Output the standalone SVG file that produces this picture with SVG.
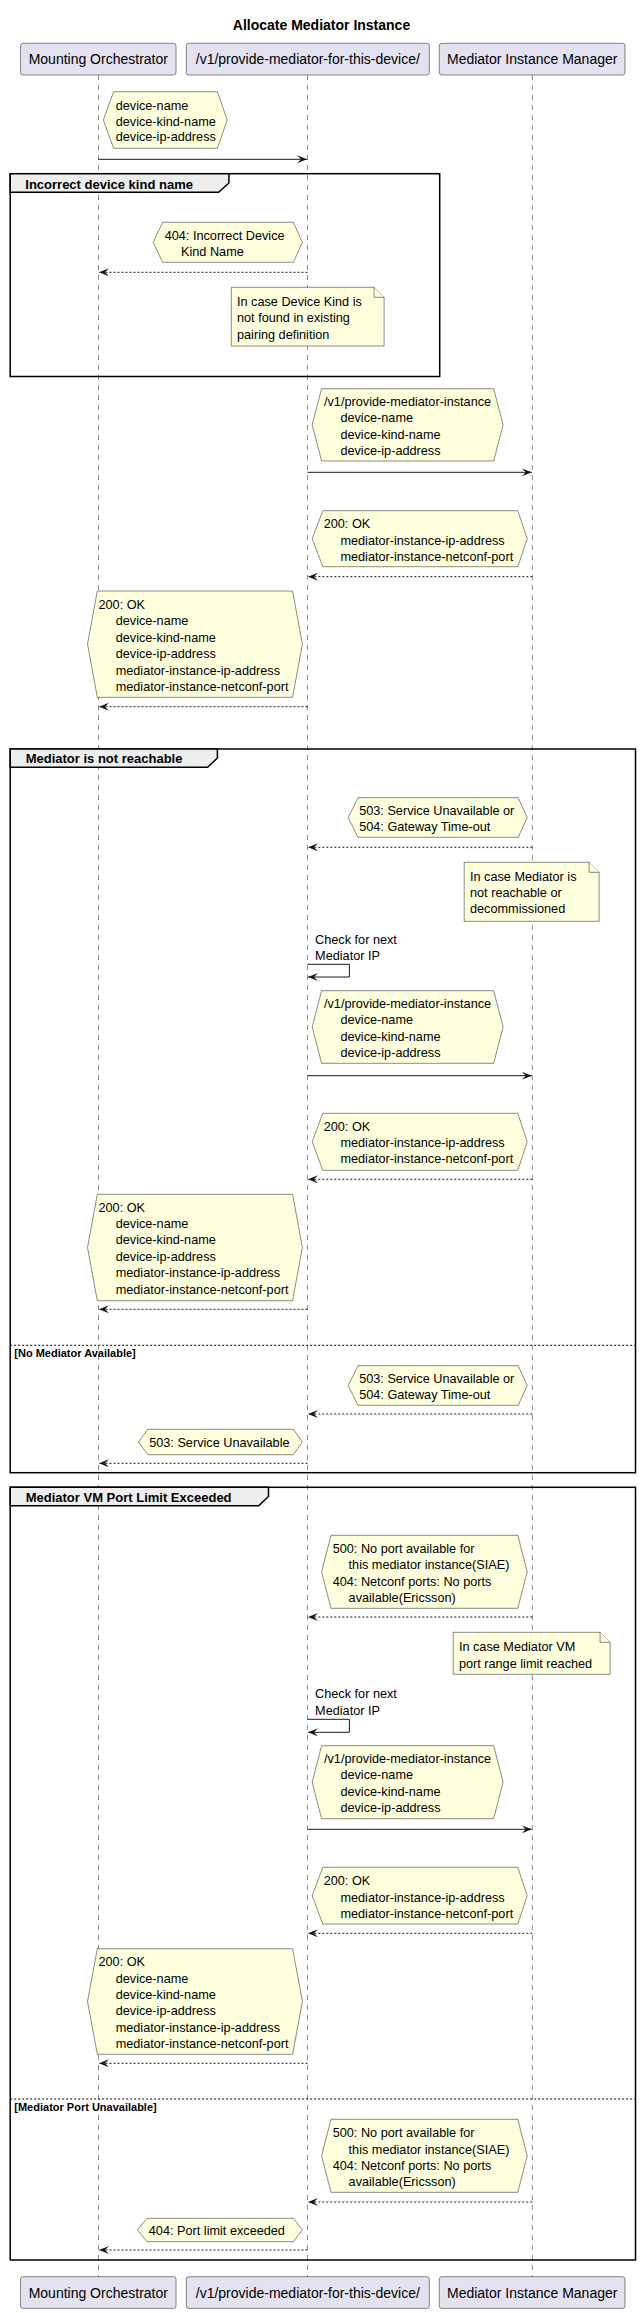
<svg xmlns="http://www.w3.org/2000/svg" width="641" height="2313" viewBox="0 0 641 2313">
<style>
text{font-family:"Liberation Sans",Arial,sans-serif;fill:#000}
.t{font-size:12.7px}
.p{font-size:14px;text-anchor:middle}
.title{font-size:14px;font-weight:bold;text-anchor:middle}
.fl{font-size:13px;font-weight:bold}
.sl{font-size:11px;font-weight:bold}
.part{fill:#E2E2F0;stroke:#181818;stroke-width:0.5}
.life{stroke:#181818;stroke-width:0.5;stroke-dasharray:5,5;fill:none}
.hex,.note{fill:#FEFFDD;stroke:#181818;stroke-width:0.5}
.frame{fill:none;stroke:#000;stroke-width:1.5}
.tab{fill:#EEEEEE;stroke:#000;stroke-width:1.5}
.sep{stroke:#000;stroke-width:1;stroke-dasharray:2,2}
.msg{stroke:#181818;stroke-width:1;fill:none}
.ret{stroke:#181818;stroke-width:1;fill:none;stroke-dasharray:2,2}
</style>
<defs>
<marker id="ah" markerWidth="10" markerHeight="8" refX="10" refY="4" orient="auto" markerUnits="userSpaceOnUse">
<path d="M0,0 L10,4 L0,8 L4,4 Z" fill="#181818"/>
</marker>
</defs>
<rect width="641" height="2313" fill="#fff"/>
<text class="title" x="321.5" y="30">Allocate Mediator Instance</text>

<g id="lifelines">
<line class="life" x1="98.5" y1="75" x2="98.5" y2="2277"/>
<line class="life" x1="307.5" y1="75" x2="307.5" y2="2277"/>
<line class="life" x1="532.3" y1="75" x2="532.3" y2="2277"/>
</g>

<g id="participant-mounting-orchestrator">
<rect class="part" x="20.5" y="43.3" width="155.5" height="31.7" rx="2.5"/>
<text class="p" x="98.3" y="64">Mounting Orchestrator</text>
<rect class="part" x="20.5" y="2276.7" width="155.5" height="31.7" rx="2.5"/>
<text class="p" x="98.3" y="2297.5">Mounting Orchestrator</text>
</g>
<g id="participant-provide-mediator">
<rect class="part" x="186.3" y="43.3" width="243" height="31.7" rx="2.5"/>
<text class="p" x="307.8" y="64">/v1/provide-mediator-for-this-device/</text>
<rect class="part" x="186.3" y="2276.7" width="243" height="31.7" rx="2.5"/>
<text class="p" x="307.8" y="2297.5">/v1/provide-mediator-for-this-device/</text>
</g>
<g id="participant-mediator-instance-manager">
<rect class="part" x="439.3" y="43.3" width="185.7" height="31.7" rx="2.5"/>
<text class="p" x="532.2" y="64">Mediator Instance Manager</text>
<rect class="part" x="439.3" y="2276.7" width="185.7" height="31.7" rx="2.5"/>
<text class="p" x="532.2" y="2297.5">Mediator Instance Manager</text>
</g>

<g id="frame-incorrect-device-kind">
<rect class="frame" x="10.2" y="173.7" width="429.5" height="202.8"/>
<path class="tab" d="M10.2,173.7 L228.9,173.7 L228.9,183 L218.6,192.3 L10.2,192.3 Z"/>
<text class="fl" x="25.3" y="189">Incorrect device kind name</text>
</g>
<g id="frame-mediator-not-reachable">
<rect class="frame" x="10.2" y="749" width="625.3" height="723.7"/>
<path class="tab" d="M10.2,749 L217.4,749 L217.4,758 L207.6,767.3 L10.2,767.3 Z"/>
<text class="fl" x="25.7" y="763">Mediator is not reachable</text>
<line class="sep" x1="10.2" y1="1345.3" x2="635.5" y2="1345.3"/>
<text class="sl" x="14.3" y="1357.3">[No Mediator Available]</text>
</g>
<g id="frame-port-limit">
<rect class="frame" x="10.2" y="1487.3" width="625.3" height="772.7"/>
<path class="tab" d="M10.2,1487.3 L268.5,1487.3 L268.5,1496.5 L258.7,1505.7 L10.2,1505.7 Z"/>
<text class="fl" x="25.7" y="1501.5">Mediator VM Port Limit Exceeded</text>
<line class="sep" x1="10.2" y1="2099" x2="635.5" y2="2099"/>
<text class="sl" x="14.3" y="2111.3">[Mediator Port Unavailable]</text>
</g>

<g id="connectors">
<line class="msg" x1="98.5" y1="159.3" x2="307" y2="159.3" marker-end="url(#ah)"/>
<line class="ret" x1="307.5" y1="272.3" x2="99" y2="272.3" marker-end="url(#ah)"/>
<line class="msg" x1="307.5" y1="472.3" x2="531.8" y2="472.3" marker-end="url(#ah)"/>
<line class="ret" x1="532.3" y1="576.7" x2="308" y2="576.7" marker-end="url(#ah)"/>
<line class="ret" x1="307.5" y1="706.7" x2="99" y2="706.7" marker-end="url(#ah)"/>
<line class="ret" x1="532.3" y1="847.3" x2="308" y2="847.3" marker-end="url(#ah)"/>
<path class="msg" d="M307.5,964.3 L349.4,964.3 L349.4,977 L308,977" marker-end="url(#ah)"/>
<line class="msg" x1="307.5" y1="1075.7" x2="531.8" y2="1075.7" marker-end="url(#ah)"/>
<line class="ret" x1="532.3" y1="1179.3" x2="308" y2="1179.3" marker-end="url(#ah)"/>
<line class="ret" x1="307.5" y1="1309.3" x2="99" y2="1309.3" marker-end="url(#ah)"/>
<line class="ret" x1="532.3" y1="1414" x2="308" y2="1414" marker-end="url(#ah)"/>
<line class="ret" x1="307.5" y1="1463.3" x2="99" y2="1463.3" marker-end="url(#ah)"/>
<line class="ret" x1="532.3" y1="1617" x2="308" y2="1617" marker-end="url(#ah)"/>
<path class="msg" d="M307.5,1719.3 L349.4,1719.3 L349.4,1732.3 L308,1732.3" marker-end="url(#ah)"/>
<line class="msg" x1="307.5" y1="1829.3" x2="531.8" y2="1829.3" marker-end="url(#ah)"/>
<line class="ret" x1="532.3" y1="1933.3" x2="308" y2="1933.3" marker-end="url(#ah)"/>
<line class="ret" x1="307.5" y1="2063.3" x2="99" y2="2063.3" marker-end="url(#ah)"/>
<line class="ret" x1="532.3" y1="2202" x2="308" y2="2202" marker-end="url(#ah)"/>
<line class="ret" x1="307.5" y1="2250" x2="99" y2="2250" marker-end="url(#ah)"/>
</g>

<g id="note-device-request">
<polygon class="hex" points="103.4,120 113.6,91.7 217.4,91.7 227.2,120 217.4,148.3 113.6,148.3"/>
<text class="t" x="115.7"><tspan x="115.7" y="109.5">device-name</tspan><tspan x="115.7" y="125.5">device-kind-name</tspan><tspan x="115.7" y="141.3">device-ip-address</tspan></text>
</g>
<g id="note-404-incorrect">
<polygon class="hex" points="153.2,242.3 162.6,222.3 293.4,222.3 302.4,242.3 293.4,262.3 162.6,262.3"/>
<text class="t"><tspan x="164.7" y="239.8">404: Incorrect Device</tspan><tspan x="181" y="255.6">Kind Name</tspan></text>
</g>
<g id="note-device-kind-not-found">
<path class="note" d="M231.3,287.3 L231.3,346 L384.1,346 L384.1,297.3 L374.1,287.3 Z"/>
<path class="note" d="M374.1,287.3 L374.1,297.3 L384.1,297.3"/>
<text class="t"><tspan x="237" y="306.2">In case Device Kind is</tspan><tspan x="237" y="322.2">not found in existing</tspan><tspan x="237" y="338.5">pairing definition</tspan></text>
</g>
<g id="note-provide-instance-1">
<polygon class="hex" points="312.2,424.8 321.6,388.7 493.7,388.7 503.1,424.8 493.7,461 321.6,461"/>
<text class="t"><tspan x="324" y="406.2">/v1/provide-mediator-instance</tspan><tspan x="340.4" y="422.3">device-name</tspan><tspan x="340.4" y="438.8">device-kind-name</tspan><tspan x="340.4" y="455.2">device-ip-address</tspan></text>
</g>
<g id="note-200-mim-1">
<polygon class="hex" points="312.2,538.7 322.8,510.7 517.8,510.7 527.2,538.7 517.8,566.7 322.8,566.7"/>
<text class="t"><tspan x="323.7" y="527.8">200: OK</tspan><tspan x="340.4" y="545">mediator-instance-ip-address</tspan><tspan x="340.4" y="561">mediator-instance-netconf-port</tspan></text>
</g>
<g id="note-200-mo-1">
<polygon class="hex" points="87.5,644.2 97.3,591 292.6,591 302.4,644.2 292.6,697.3 97.3,697.3"/>
<text class="t"><tspan x="98.5" y="608.8">200: OK</tspan><tspan x="115.7" y="625.3">device-name</tspan><tspan x="115.7" y="641.6">device-kind-name</tspan><tspan x="115.7" y="657.8">device-ip-address</tspan><tspan x="115.7" y="674.8">mediator-instance-ip-address</tspan><tspan x="115.7" y="691">mediator-instance-netconf-port</tspan></text>
</g>

<g id="note-503-504-1">
<polygon class="hex" points="348.2,817.5 358,797.7 518.2,797.7 527.2,817.5 518.2,837.3 358,837.3"/>
<text class="t"><tspan x="359.2" y="815.2">503: Service Unavailable or</tspan><tspan x="359.2" y="831.2">504: Gateway Time-out</tspan></text>
</g>
<g id="note-mediator-not-reachable">
<path class="note" d="M464.2,862.3 L464.2,921.3 L599.1,921.3 L599.1,872.3 L589.1,862.3 Z"/>
<path class="note" d="M589.1,862.3 L589.1,872.3 L599.1,872.3"/>
<text class="t"><tspan x="470" y="881.2">In case Mediator is</tspan><tspan x="470" y="897.2">not reachable or</tspan><tspan x="470" y="913.2">decommissioned</tspan></text>
</g>
<g id="self-check-1">
<text class="t"><tspan x="315.1" y="943.8">Check for next</tspan><tspan x="315.1" y="959.8">Mediator IP</tspan></text>
</g>
<g id="note-provide-instance-2">
<polygon class="hex" points="312.2,1027 321.6,990.7 493.7,990.7 503.1,1027 493.7,1063.3 321.6,1063.3"/>
<text class="t"><tspan x="324" y="1007.8">/v1/provide-mediator-instance</tspan><tspan x="340.4" y="1024.4">device-name</tspan><tspan x="340.4" y="1041">device-kind-name</tspan><tspan x="340.4" y="1057.2">device-ip-address</tspan></text>
</g>
<g id="note-200-mim-2">
<polygon class="hex" points="312.2,1141.8 322.8,1113.3 517.8,1113.3 527.2,1141.8 517.8,1170.3 322.8,1170.3"/>
<text class="t"><tspan x="323.7" y="1130.5">200: OK</tspan><tspan x="340.4" y="1147.2">mediator-instance-ip-address</tspan><tspan x="340.4" y="1163.2">mediator-instance-netconf-port</tspan></text>
</g>
<g id="note-200-mo-2">
<polygon class="hex" points="87.5,1247.5 97.3,1194.3 292.6,1194.3 302.4,1247.5 292.6,1300.7 97.3,1300.7"/>
<text class="t"><tspan x="98.5" y="1211.8">200: OK</tspan><tspan x="115.7" y="1228.2">device-name</tspan><tspan x="115.7" y="1244.2">device-kind-name</tspan><tspan x="115.7" y="1261.2">device-ip-address</tspan><tspan x="115.7" y="1277.2">mediator-instance-ip-address</tspan><tspan x="115.7" y="1293.5">mediator-instance-netconf-port</tspan></text>
</g>
<g id="note-503-504-2">
<polygon class="hex" points="348.2,1385.5 358,1365.7 518.2,1365.7 527.2,1385.5 518.2,1405.3 358,1405.3"/>
<text class="t"><tspan x="359.2" y="1383.2">503: Service Unavailable or</tspan><tspan x="359.2" y="1398.8">504: Gateway Time-out</tspan></text>
</g>
<g id="note-503-service-unavailable">
<polygon class="hex" points="138.5,1442 147.9,1429.3 293.4,1429.3 302.4,1442 293.4,1454.7 147.9,1454.7"/>
<text class="t" x="149.2" y="1446.8">503: Service Unavailable</text>
</g>

<g id="note-500-404-1">
<polygon class="hex" points="321.6,1571.8 331,1535.3 517.8,1535.3 527.2,1571.8 517.8,1608.3 331,1608.3"/>
<text class="t"><tspan x="332.7" y="1553.2">500: No port available for</tspan><tspan x="348.6" y="1569.2">this mediator instance(SIAE)</tspan><tspan x="332.7" y="1585.8">404: Netconf ports: No ports</tspan><tspan x="348.6" y="1601.8">available(Ericsson)</tspan></text>
</g>
<g id="note-port-range-limit">
<path class="note" d="M453.2,1632.3 L453.2,1674.3 L610.1,1674.3 L610.1,1642.3 L600.1,1632.3 Z"/>
<path class="note" d="M600.1,1632.3 L600.1,1642.3 L610.1,1642.3"/>
<text class="t"><tspan x="458.9" y="1650.5">In case Mediator VM</tspan><tspan x="458.9" y="1667.8">port range limit reached</tspan></text>
</g>
<g id="self-check-2">
<text class="t"><tspan x="315.1" y="1697.8">Check for next</tspan><tspan x="315.1" y="1714.5">Mediator IP</tspan></text>
</g>
<g id="note-provide-instance-3">
<polygon class="hex" points="312.2,1782.2 321.6,1745.7 493.7,1745.7 503.1,1782.2 493.7,1818.7 321.6,1818.7"/>
<text class="t"><tspan x="324" y="1762.8">/v1/provide-mediator-instance</tspan><tspan x="340.4" y="1779.2">device-name</tspan><tspan x="340.4" y="1795.5">device-kind-name</tspan><tspan x="340.4" y="1811.8">device-ip-address</tspan></text>
</g>
<g id="note-200-mim-3">
<polygon class="hex" points="312.2,1895.7 322.8,1867.3 517.8,1867.3 527.2,1895.7 517.8,1924 322.8,1924"/>
<text class="t"><tspan x="323.7" y="1884.5">200: OK</tspan><tspan x="340.4" y="1902.2">mediator-instance-ip-address</tspan><tspan x="340.4" y="1917.8">mediator-instance-netconf-port</tspan></text>
</g>
<g id="note-200-mo-3">
<polygon class="hex" points="87.5,2001.5 97.3,1948.7 292.6,1948.7 302.4,2001.5 292.6,2054.3 97.3,2054.3"/>
<text class="t"><tspan x="98.5" y="1965.5">200: OK</tspan><tspan x="115.7" y="1982.8">device-name</tspan><tspan x="115.7" y="1998.8">device-kind-name</tspan><tspan x="115.7" y="2015.2">device-ip-address</tspan><tspan x="115.7" y="2031.8">mediator-instance-ip-address</tspan><tspan x="115.7" y="2047.8">mediator-instance-netconf-port</tspan></text>
</g>
<g id="note-500-404-2">
<polygon class="hex" points="321.6,2155.8 331,2119.3 517.8,2119.3 527.2,2155.8 517.8,2192.3 331,2192.3"/>
<text class="t"><tspan x="332.7" y="2137.2">500: No port available for</tspan><tspan x="348.6" y="2153.8">this mediator instance(SIAE)</tspan><tspan x="332.7" y="2169.8">404: Netconf ports: No ports</tspan><tspan x="348.6" y="2186.2">available(Ericsson)</tspan></text>
</g>
<g id="note-404-port-limit">
<polygon class="hex" points="137.3,2230 147.1,2218.3 293.4,2218.3 302.4,2230 293.4,2241.7 147.1,2241.7"/>
<text class="t" x="148.8" y="2234.5">404: Port limit exceeded</text>
</g>
</svg>
